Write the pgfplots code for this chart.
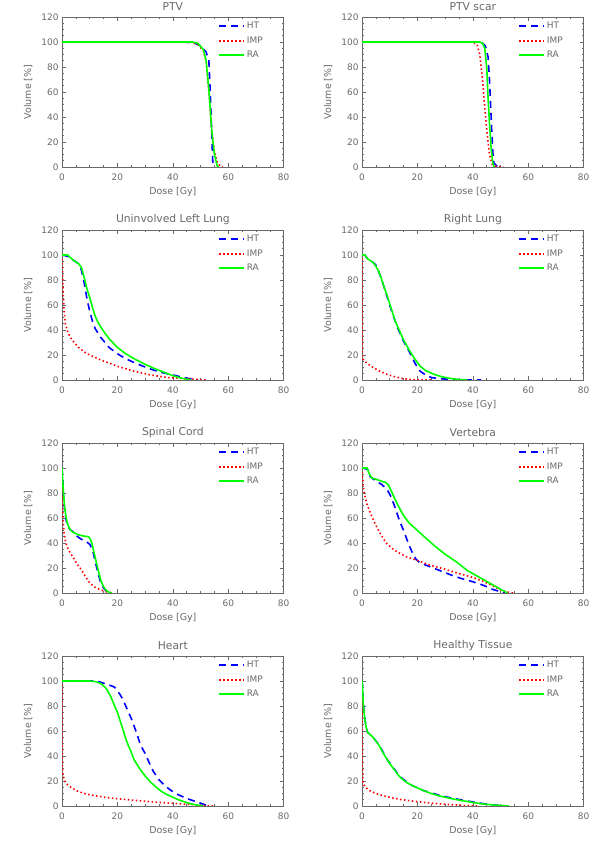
\documentclass[border=0pt]{standalone}
\usepackage{fontspec}
\setmainfont{DejaVu Sans}
\usepackage{pgfplots}
\pgfplotsset{compat=1.18}
\definecolor{txt}{RGB}{105,105,105}
\definecolor{htblue}{RGB}{0,0,255}
\definecolor{impred}{RGB}{255,0,0}
\definecolor{ragreen}{RGB}{0,255,0}

\pgfplotsset{
  every axis title shift=0pt,
  dvh/.style={
    scale only axis, width=221.7bp, height=150bp, anchor=south west,
    xmin=0, xmax=80, ymin=0, ymax=120,
    xtick={0,20,...,80}, ytick={0,20,...,120},
    minor x tick num=3, minor y tick num=3,
    tick align=inside, major tick length=4bp, minor tick length=2bp,
    axis line style={txt, line width=0.7bp},
    every tick/.style={txt, line width=0.6bp},
    tick label style={font=\fontsize{9}{10}\selectfont, text=txt},
    /pgf/number format/assume math mode=true,
    xticklabel style={yshift=-3bp},
    xlabel={Dose [Gy]}, ylabel={Volume [\%]},
    label style={font=\fontsize{9.5}{11}\selectfont, text=txt},
    xlabel style={at={(axis description cs:0.5,-0.167)}, anchor=center},
    ylabel style={at={(axis description cs:-0.153,0.5)}, anchor=center},
    title style={at={(axis description cs:0.5,1.067)}, anchor=center,
      font=\fontsize{10.8}{12}\selectfont, text=txt},
    legend cell align=left,
    legend image code/.code={\draw[mark repeat=2,mark phase=2,#1]
      plot coordinates {(0bp,0bp) (12.5bp,0bp) (25bp,0bp)};},
    legend style={at={(axis description cs:0.704,0.98)}, anchor=north west,
      draw=none, fill=none, font=\fontsize{9}{10}\selectfont,
      row sep=2.5bp, inner sep=0pt, nodes={inner sep=2bp}},
  },
  ht/.style={color=htblue, line width=1.6bp, dash pattern=on 7bp off 5bp},
  imp/.style={color=impred, line width=1.6bp, dash pattern=on 1.5bp off 2.5bp},
  ra/.style={color=ragreen, line width=1.6bp, solid},
}
\newcommand{\dvhlegend}{\legend{\textcolor{txt}{HT},\textcolor{txt}{IMP},\textcolor{txt}{RA}}}

\begin{document}
\begin{tikzpicture}
\path[use as bounding box] (0,0) rectangle (600bp,850bp);

% PTV
\begin{axis}[dvh, at={(62bp,683bp)}, title={PTV}]
\addplot[ht] coordinates {(0,100)(44,100)(48,99)(50,97)(52,92)(53,85)(53.5,60)(54,30)(54.3,10)(54.5,0)};
\addplot[imp] coordinates {(0,100)(46,100)(49,98)(51,93)(52,85)(53,60)(54,30)(55,12)(56,4)(57,1)(58,0)};
\addplot[ra] coordinates {(0,100)(47,100)(49,99)(51,94)(52,85)(53,62)(54,30)(55,10)(56,1)(56.5,0)};
\dvhlegend
\end{axis}

% PTV scar
\begin{axis}[dvh, at={(362bp,683bp)}, title={PTV scar}]
\addplot[ht] coordinates {(0,100)(42,100)(43.5,99)(44.5,97)(45.5,88)(46,70)(46.4,50)(46.8,30)(47.2,12)(47.6,3)(48.5,1)(50,0)};
\addplot[imp] coordinates {(0,100)(40,100)(41.5,98)(42.5,90)(43.5,70)(44.2,50)(45,30)(46,10)(47,2)(48.5,0.5)(51,0)};
\addplot[ra] coordinates {(0,100)(42.5,100)(43.5,99)(44.3,95)(45,80)(45.5,55)(46,35)(46.6,15)(47.2,3)(47.7,0)};
\dvhlegend
\end{axis}

% Uninvolved Left Lung
\begin{axis}[dvh, at={(62bp,470bp)}, title={Uninvolved Left Lung}]
\addplot[ht] coordinates {(0,100)(2,99)(4,96)(6,93)(7,88)(8,78)(9,65)(10,55)(11,47)(12,41)(14,34)(17,26)(20,21)(23,17)(27,13)(31,9.5)(35,6.5)(40,4)(45,1.5)(49,0)};
\addplot[imp] coordinates {(0,100)(0.2,85)(0.4,70)(0.7,58)(1.2,45)(2,39)(3,34)(4.2,30.5)(6,26)(8,22.5)(10,20)(14,16)(20,11)(26,7)(32,4)(38,2)(45,1)(52,0)};
\addplot[ra] coordinates {(0,100)(2,100)(4,96)(6,93)(7,90)(8,82)(9,73)(10,66)(11,58)(12,51)(13,46)(15,39)(17,33)(20,26)(23,21)(26,17)(30,12.5)(33,9.5)(37,6)(40,3.5)(43,1.5)(46.5,0)};
\dvhlegend
\end{axis}

% Right Lung
\begin{axis}[dvh, at={(362bp,470bp)}, title={Right Lung}]
\addplot[ht] coordinates {(0,100)(1,100)(2,97)(4,94)(5,92)(6,87)(7,81)(8,74)(9,67)(10,60)(11,53)(12,47)(13,41)(14,36)(15,31)(17,23)(19,14)(20,10)(21,7)(23,4)(25,2)(28,1)(32,0.5)(36,0.2)(43,0)};
\addplot[imp] coordinates {(0,100)(0.05,60)(0.1,30)(0.2,17)(1,15)(2,13)(4,10)(6,7.5)(9,4.5)(12,2.5)(15,1)(18,0.3)(25,0)};
\addplot[ra] coordinates {(0,100)(1,100)(2,97)(4,94)(5,91)(6,87)(7,81)(8,74)(9,68)(10,61)(11,54)(12,47)(13,42)(14,37)(15,32)(17,24)(19,17)(21,11)(23,7.5)(26,4.5)(29,2.5)(32,1.2)(35,0.4)(38,0)};
\dvhlegend
\end{axis}

% Spinal Cord
\begin{axis}[dvh, at={(62bp,257bp)}, title={Spinal Cord}]
\addplot[ht] coordinates {(0,100)(0.3,90)(0.6,75)(1,65)(1.5,58)(2,54)(3,50.5)(4,49)(5,46)(7,43)(8.5,41.5)(10,39)(11,35)(12,25)(13,16)(14,8)(15,4)(16,1.5)(17,0.5)(18,0)};
\addplot[imp] coordinates {(0,100)(0.1,90)(0.2,70)(0.4,58)(0.7,49)(1.2,42)(1.8,37)(3,32)(4.2,28)(5.5,23)(7,18.5)(8.5,13)(10,8)(12,4.5)(14,2.5)(16,1)(18.5,0)};
\addplot[ra] coordinates {(0,100)(0.3,88)(0.6,78)(1,68)(1.5,60)(2,55)(3,50.5)(4,48.5)(6,46.5)(8,45.5)(9.5,45)(10.3,43)(11,38)(12,28)(13,19)(14,10)(15,5)(16,2)(17,0.5)(18,0)};
\dvhlegend
\end{axis}

% Vertebra
\begin{axis}[dvh, at={(362bp,257bp)}, title={Vertebra}]
\addplot[ht] coordinates {(0,100)(2,99)(3,93)(5,89.5)(7,87)(9,83)(10.5,77)(12,68)(13.5,58)(15,50)(16.5,41)(18,33)(19.5,27)(21,24)(24,21.5)(28,18)(32,14.5)(36,11.5)(40,9)(44,6)(47,3)(50,1)(51.5,0)};
\addplot[imp] coordinates {(0,100)(0.3,90)(0.6,82)(1.2,76)(1.8,71)(3,64)(4.2,58)(5.5,52)(6.6,47.5)(8,42.5)(9,39.5)(11,35.5)(12.6,33)(16,29)(20,26)(25,22)(30,19)(35,15.5)(40,12.5)(44,9)(47,6)(50,2.5)(52,1)(54.5,0)};
\addplot[ra] coordinates {(0,100)(1.8,100)(2.5,96)(3.5,92)(5,91)(7,89.5)(8.5,88.5)(9.5,86.5)(10.5,82)(11.5,77)(13,70)(15,62)(17,56)(20,50)(23,44)(26,38)(30,31)(34,25)(38,18)(42,13)(46,8)(50,3)(52.5,0)};
\dvhlegend
\end{axis}

% Heart
\begin{axis}[dvh, at={(62bp,44bp)}, title={Heart}]
\addplot[ht] coordinates {(0,100)(12,100)(14,99)(16,97.5)(18,96)(19,95)(20,92)(21,89)(22,85)(23,80)(24,75)(25,70)(26,64)(27,58)(28,51)(29,46)(30,42)(31,37)(32,32)(33,27.5)(35,21)(37,16.5)(39,13)(41,10)(43,8)(45,6)(47,4.5)(49,3)(51,1.5)(52.5,0)};
\addplot[imp] coordinates {(0,100)(0.05,60)(0.1,35)(0.3,25)(1,20)(2,17)(3.5,14.5)(5.5,12)(8,10)(10,9)(13,7.8)(16,6.8)(20,5.8)(25,4.8)(30,3.8)(35,2.9)(40,2.1)(45,1.4)(50,0.7)(54.5,0)};
\addplot[ra] coordinates {(0,100)(10,100)(12,99.5)(14,98)(16,94)(17.5,88)(19,80)(20,75)(21,68)(22,61)(23,54)(24,48)(25,43)(26,37)(28,30)(30,24)(32,19)(34,15)(36,11.5)(38,9)(40,7)(42,5)(44,3.5)(46,2)(48,1)(51,0)};
\dvhlegend
\end{axis}

% Healthy Tissue
\begin{axis}[dvh, at={(362bp,44bp)}, title={Healthy Tissue}]
\addplot[ht] coordinates {(0,100)(0.2,96)(0.4,86)(0.6,79)(1,70)(1.5,63)(2,59)(3,57)(4,55)(5,52)(6,49.5)(7,45.5)(8,41.5)(9,37.5)(10,34.5)(11,31.5)(12,28.5)(13,25.5)(14,23)(16,19.5)(18,16.5)(20,14.5)(22,12.5)(25,10.5)(28,8.5)(32,6.5)(36,4.8)(40,3.2)(44,1.8)(48,0.8)(51,0)};
\addplot[imp] coordinates {(0,100)(0.05,60)(0.1,35)(0.3,20)(0.6,17)(1.5,14.5)(3,12)(5,10)(8,8)(11,6.5)(14,5.2)(17,4.3)(20,3.5)(24,2.5)(28,1.7)(32,1.1)(36,0.6)(40,0.2)(42,0)};
\addplot[ra] coordinates {(0,100)(0.2,95)(0.4,85)(0.6,78)(1,70)(1.5,63)(2,59)(3,57)(4,55)(5,52)(6,49)(7,45)(8,41)(9,37.5)(10,34)(11,31)(12,28)(13,25)(14,22.5)(16,19)(18,16.5)(20,14.5)(22,12.5)(25,10)(28,8)(32,6)(36,4.3)(40,2.8)(44,1.5)(48,0.7)(53,0)};
\dvhlegend
\end{axis}
\end{tikzpicture}
\end{document}
